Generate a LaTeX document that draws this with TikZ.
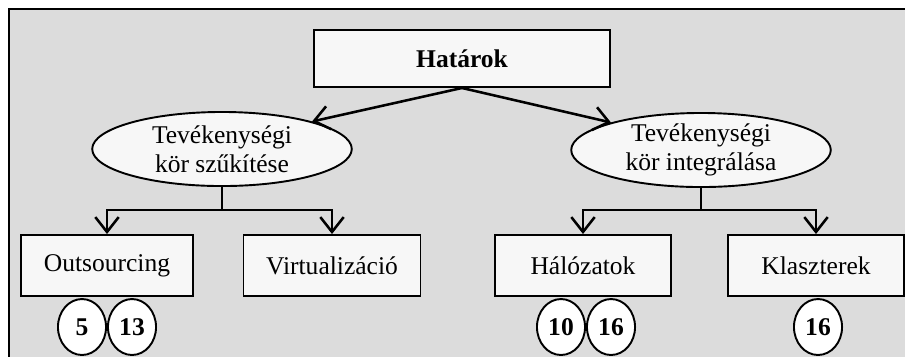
\documentclass[tikz,border=0pt]{standalone}
\usepackage{fontspec}
\setmainfont{Liberation Serif}
\usetikzlibrary{arrows.meta, shapes.geometric}
\definecolor{PanelGray}{RGB}{220,220,220}
\definecolor{BoxFill}{RGB}{247,247,247}

\begin{document}
\begin{tikzpicture}[x=0.47pt,y=-0.47pt,
        font=\fontsize{12}{13.5}\selectfont,
        box/.style={draw=black,fill=BoxFill,line width=0.9pt,
                    minimum height=28.7pt,inner sep=0pt},
        oval/.style={ellipse,draw=black,fill=BoxFill,line width=0.9pt,
                     minimum width=122pt,minimum height=34.8pt,inner sep=0pt,
                     align=center},
        refno/.style={ellipse,draw=black,fill=white,line width=0.9pt,
                      minimum width=22.6pt,minimum height=26.3pt,inner sep=0pt,
                      font=\fontsize{12}{13.5}\selectfont\bfseries},
        link/.style={line width=1.2pt,-{Straight Barb[length=7pt,width=11pt]}}
      ]
        \useasboundingbox (0,0) rectangle (905,356);
        % panel
        \fill[PanelGray,draw=black,line width=0.9pt] (9,9) rectangle (925,376);
        % top
        \node[box,minimum width=138.7pt,minimum height=26.8pt,font=\fontsize{12}{13.5}\selectfont\bfseries]
          (hat) at (462,58.5) {Határok};
        \node[oval] (szuk) at (222,149) {Tevékenységi\\kör szűkítése};
        \node[oval] (integ) at (701,150) {Tevékenységi\\kör integrálása};
        \draw[link] (hat.south) -- (szuk.17);
        \draw[link] (hat.south) -- (integ.163);
        % bottom row
        \node[box,minimum width=80.8pt] (outs) at (107,265.5) {Outsourcing};
        \node[box,minimum width=83.2pt] (virt) at (332,265.5) {Virtualizáció};
        \node[box,minimum width=82.7pt] (halo) at (583,265.5) {Hálózatok};
        \node[box,minimum width=82.7pt] (klas) at (816,265.5) {Klaszterek};
        \coordinate (szj) at (222,210);
        \coordinate (intj) at (701,210);
        \draw[line width=1.2pt] (szuk.south) -- (szj);
        \draw[line width=1.2pt] (integ.south) -- (intj);
        \draw[link] (szj) -| (outs.north);
        \draw[link] (szj) -| (virt.north);
        \draw[link] (intj) -| (halo.north);
        \draw[link] (intj) -| (klas.north);
        % chapter numbers
        \node[refno] (o5) at (82,327) {5};
        \node[refno] (o13) at (132,327) {13};
        \node[refno] (h10) at (561,327) {10};
        \node[refno] (h16) at (611,327) {16};
        \node[refno] (k16) at (818,327) {16};
      \end{tikzpicture}
\end{document}
